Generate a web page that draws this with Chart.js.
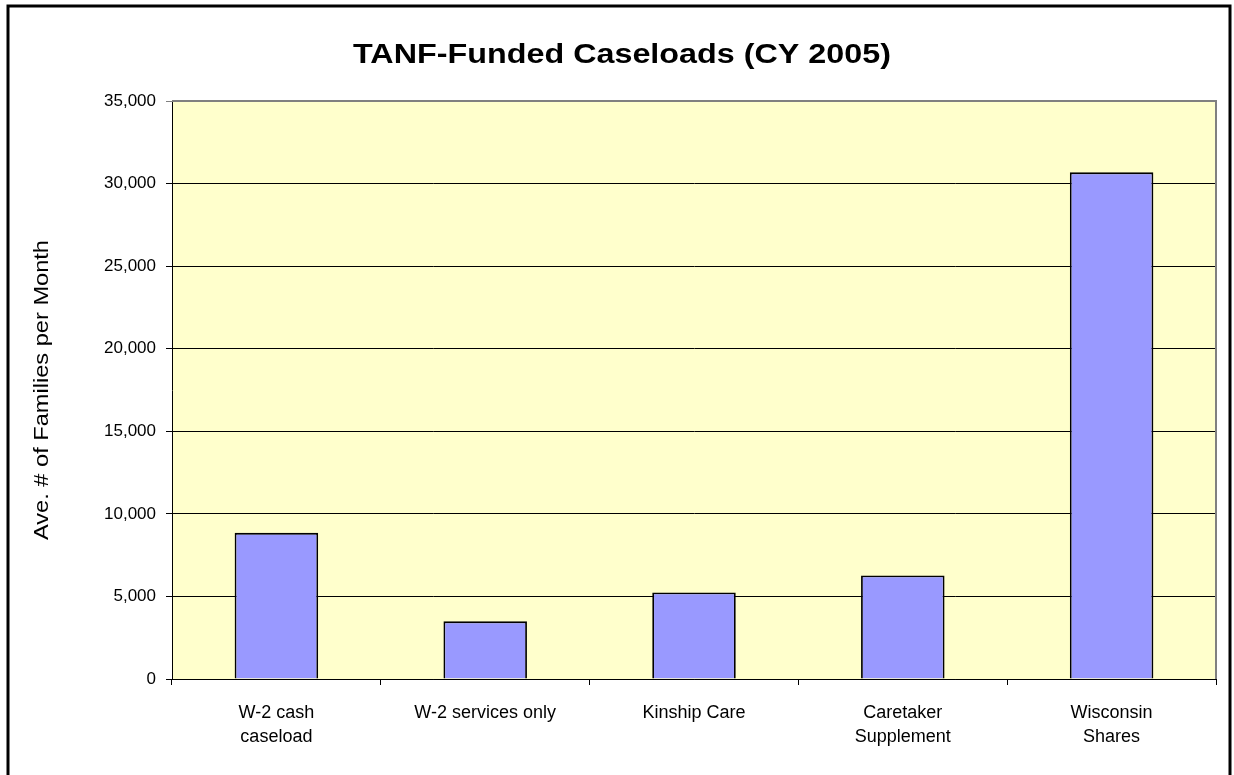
<!DOCTYPE html>
<html><head><meta charset="utf-8">
<script src="https://cdn.jsdelivr.net/npm/chart.js@4/dist/chart.umd.min.js"></script>
<style>html,body{margin:0;padding:0;background:#fff}canvas{display:block}</style>
</head><body>
<canvas id="c" width="1234" height="775"></canvas>
<script>
const chartTitle = "TANF-Funded Caseloads (CY 2005)";
const yAxisTitle = "Ave. # of Families per Month";
const categories = [["W-2 cash","caseload"], "W-2 services only", "Kinship Care", ["Caretaker","Supplement"], ["Wisconsin","Shares"]];
const caseloads = [8850, 3490, 5240, 6270, 30680];
const yMin = 0, yMax = 35000, yStep = 5000;

const FONT = "'Liberation Sans', Arial, sans-serif";

function stretchedText(ctx, text, font, cx, cy, targetLen, rotation) {
  ctx.save();
  ctx.font = font;
  ctx.fillStyle = '#000';
  ctx.textAlign = 'center';
  ctx.textBaseline = 'middle';
  const w = ctx.measureText(text).width;
  ctx.translate(cx, cy);
  ctx.rotate(rotation);
  ctx.scale(targetLen / w, 1);
  ctx.fillText(text, 0, 0);
  ctx.restore();
}

const framePlugin = {
  id: 'frame',
  beforeDraw(chart) {
    const {ctx, chartArea: a} = chart;
    ctx.save();
    ctx.fillStyle = '#ffffff';
    ctx.fillRect(0, 0, chart.width, chart.height);
    ctx.fillStyle = '#FFFFCC';
    ctx.fillRect(a.left, a.top, a.right - a.left, a.bottom - a.top);
    ctx.restore();
  },
  afterDraw(chart) {
    const {ctx, chartArea: a} = chart;
    ctx.save();
    ctx.strokeStyle = '#808080';
    ctx.lineWidth = 2;
    ctx.beginPath();
    ctx.moveTo(a.left, a.top);
    ctx.lineTo(a.right, a.top);
    ctx.lineTo(a.right, a.bottom);
    ctx.stroke();
    ctx.strokeStyle = '#000000';
    ctx.lineWidth = 3;
    ctx.strokeRect(8, 6, 1222, 800);
    ctx.restore();
    stretchedText(ctx, chartTitle, "bold 27px " + FONT, 622, 56, 538, 0);
    stretchedText(ctx, yAxisTitle, "21px " + FONT, 42, (a.top + a.bottom) / 2, 300, -Math.PI / 2);
  }
};

new Chart(document.getElementById('c'), {
  type: 'bar',
  data: {
    labels: categories,
    datasets: [{
      data: caseloads,
      backgroundColor: '#9999FF',
      borderColor: '#000000',
      borderWidth: 1.8,
      barPercentage: 0.4,
      categoryPercentage: 1.0
    }]
  },
  options: {
    responsive: false,
    animation: false,
    layout: { padding: { left: 0, top: 101, right: 18, bottom: 0 } },
    plugins: {
      legend: { display: false },
      tooltip: { enabled: false },
      title: { display: false }
    },
    scales: {
      x: {
        offset: true,
        grid: { display: true, drawOnChartArea: false, drawTicks: true, tickLength: 6, color: '#000', offset: true },
        border: { display: true, color: '#000', width: 1 },
        ticks: { color: '#000', font: { family: FONT, size: 18, lineHeight: 1.333 }, padding: 16, maxRotation: 0, autoSkip: false },
        afterFit(scale) { scale.height = 96; }
      },
      y: {
        min: yMin, max: yMax,
        ticks: { stepSize: yStep, color: '#000', font: { family: FONT, size: 17 }, padding: 10,
          callback: v => v.toLocaleString('en-US') },
        grid: { color: ctx => (ctx.tick && ctx.tick.value === yMax) ? '#808080' : '#000', lineWidth: 1, tickLength: 6 },
        border: { display: true, color: '#000', width: 1 },
        title: { display: false, text: yAxisTitle },
        afterFit(scale) { scale.width = 172; }
      }
    }
  },
  plugins: [framePlugin]
});
</script>
</body></html>
